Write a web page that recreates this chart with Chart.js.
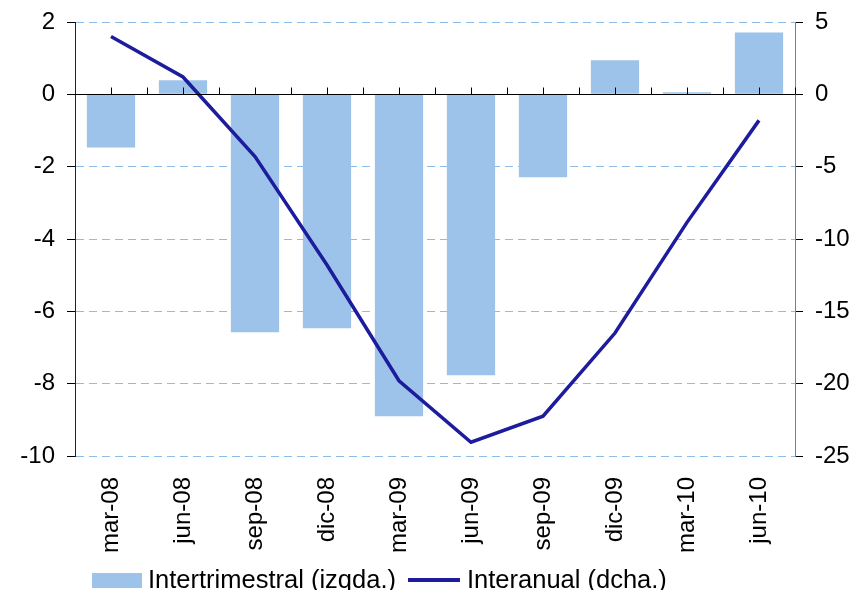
<!DOCTYPE html>
<html>
<head>
<meta charset="utf-8">
<script src="https://cdn.jsdelivr.net/npm/chart.js@4"></script>
<style>
  html, body { margin: 0; padding: 0; background: #fff; }
  #wrap { width: 854px; height: 590px; }
</style>
</head>
<body>
<div id="wrap"><canvas id="chart" width="854" height="590"></canvas></div>
<script>
// Data
const categories = ['mar-08', 'jun-08', 'sep-08', 'dic-08', 'mar-09', 'jun-09', 'sep-09', 'dic-09', 'mar-10', 'jun-10'];
const intertrimestral = [-1.47, 0.39, -6.58, -6.47, -8.9, -7.77, -2.29, 0.94, 0.06, 1.71];
const interanual = [4.0, 1.2, -4.3, -11.8, -19.8, -24.05, -22.25, -16.5, -8.85, -1.8];
const leftTicks = [2, 0, -2, -4, -6, -8, -10];
const rightTicks = [5, 0, -5, -10, -15, -20, -25];
const legendLabels = ['Intertrimestral (izqda.)', 'Interanual (dcha.)'];

const barColor = '#9dc3ea';
const lineColor = '#1c1c9c';
const gridColor = '#8fbbe8';
const fontFamily = '"Liberation Sans", Arial, sans-serif';

// zero line with small tick marks every half category, and the bottom legend
const extras = {
    id: 'extras',
    afterDatasetsDraw(chart) {
        const ctx = chart.ctx;
        const y = chart.scales.y;
        const y0 = Math.round(y.getPixelForValue(0)) + 0.5;
        const area = chart.chartArea;
        ctx.save();
        ctx.strokeStyle = '#000';
        ctx.lineWidth = 1;
        ctx.beginPath();
        ctx.moveTo(area.left, y0);
        ctx.lineTo(area.right, y0);
        const step = (area.right - area.left) / categories.length / 2;
        for (let i = 1; i <= categories.length * 2; i++) {
            const px = Math.round(area.left + i * step) + 0.5;
            ctx.moveTo(px, y0);
            ctx.lineTo(px, y0 - 7);
        }
        ctx.stroke();
        ctx.restore();
    },
    afterDraw(chart) {
        const ctx = chart.ctx;
        ctx.save();
        ctx.font = '25.5px ' + fontFamily;
        ctx.textBaseline = 'middle';
        // bar entry
        ctx.fillStyle = barColor;
        ctx.fillRect(92, 573, 50, 15);
        ctx.fillStyle = '#000';
        ctx.fillText(legendLabels[0], 148, 581);
        // line entry
        ctx.strokeStyle = lineColor;
        ctx.lineWidth = 4;
        ctx.beginPath();
        ctx.moveTo(408, 580);
        ctx.lineTo(460, 580);
        ctx.stroke();
        ctx.fillText(legendLabels[1], 467, 581);
        ctx.restore();
    }
};

const ctx = document.getElementById('chart').getContext('2d');
const chart = new Chart(ctx, {
    data: {
        labels: categories,
        datasets: [
            {
                type: 'line',
                label: legendLabels[1],
                data: interanual,
                yAxisID: 'y1',
                borderColor: lineColor,
                borderWidth: 3.5,
                pointRadius: 0,
                tension: 0,
                order: 0
            },
            {
                type: 'bar',
                label: legendLabels[0],
                data: intertrimestral,
                yAxisID: 'y',
                backgroundColor: barColor,
                barPercentage: 0.67,
                categoryPercentage: 1,
                order: 1
            }
        ]
    },
    options: {
        responsive: false,
        animation: false,
        layout: { padding: { top: 22, left: 0, right: 0, bottom: 0 } },
        plugins: {
            legend: { display: false },
            tooltip: { enabled: false }
        },
        scales: {
            x: {
                grid: { display: false, drawTicks: false },
                border: { display: false },
                ticks: {
                    color: '#000',
                    font: { family: fontFamily, size: 24 },
                    minRotation: 90,
                    maxRotation: 90,
                    padding: 21
                },
                afterFit(scale) { scale.height = 134; scale.paddingLeft = 0; scale.paddingRight = 0; }
            },
            y: {
                position: 'left',
                min: -10,
                max: 2,
                afterBuildTicks(scale) { scale.ticks = leftTicks.map(v => ({ value: v })); },
                grid: {
                    color: gridColor,
                    tickColor: '#000',
                    tickLength: 8,
                    lineWidth: 1
                },
                border: { color: '#222', dash: [8, 5] },
                ticks: {
                    color: '#000',
                    font: { family: fontFamily, size: 24 },
                    padding: 12
                },
                afterFit(scale) { scale.width = 75; scale.paddingTop = 0; scale.paddingBottom = 0; }
            },
            y1: {
                position: 'right',
                min: -25,
                max: 5,
                afterBuildTicks(scale) { scale.ticks = rightTicks.map(v => ({ value: v })); },
                grid: {
                    drawOnChartArea: false,
                    color: '#000',
                    tickLength: 8
                },
                border: { color: '#808080' },
                ticks: {
                    color: '#000',
                    font: { family: fontFamily, size: 24 },
                    padding: 12
                },
                afterFit(scale) { scale.width = 59; scale.paddingTop = 0; scale.paddingBottom = 0; }
            }
        }
    },
    plugins: [extras]
});
</script>
</body>
</html>
